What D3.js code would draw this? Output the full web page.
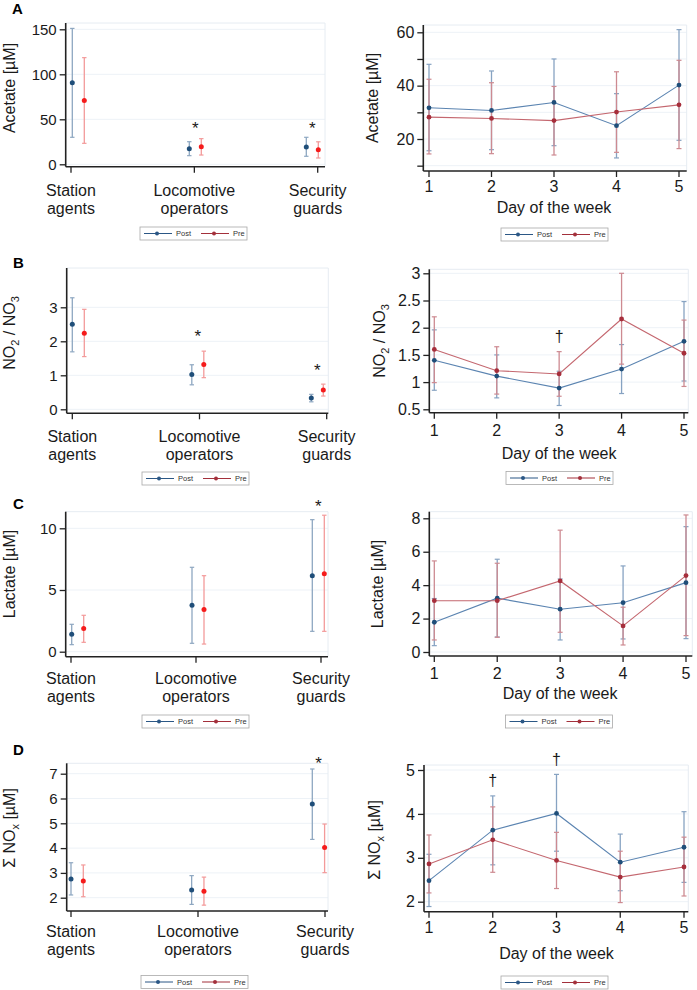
<!DOCTYPE html>
<html><head><meta charset="utf-8">
<script src="https://cdn.jsdelivr.net/npm/d3@7"></script>
<style>
html,body{margin:0;padding:0;background:#fff;}
svg{display:block;font-family:"Liberation Sans",Arial,sans-serif;}
</style></head>
<body><svg id="chart" width="697" height="990"></svg>
<script>
// ---------- DATA ----------
const groups = ["Station agents", "Locomotive operators", "Security guards"];
const groupLabelLines = [["Station", "agents"], ["Locomotive", "operators"], ["Security", "guards"]];
const days = [1, 2, 3, 4, 5];
const seriesNames = ["Post", "Pre"];

// A: Acetate [µM]
const acetateGroupPostMean = [90.7, 17.4, 19.2];
const acetateGroupPostLo   = [30.0, 9.6, 8.9];
const acetateGroupPostHi   = [151.0, 25.1, 30.0];
const acetateGroupPreMean  = [71.0, 19.6, 16.3];
const acetateGroupPreLo    = [23.3, 10.3, 7.0];
const acetateGroupPreHi    = [118.5, 28.5, 25.0];
const acetateDayPostMean = [31.7, 30.7, 33.7, 25.0, 40.2];
const acetateDayPostLo   = [15.6, 16.0, 17.5, 12.9, 19.5];
const acetateDayPostHi   = [48.0, 45.5, 50.0, 37.0, 61.0];
const acetateDayPreMean  = [28.2, 27.7, 26.9, 30.1, 32.8];
const acetateDayPreLo    = [14.4, 14.5, 14.0, 15.0, 16.4];
const acetateDayPreHi    = [42.4, 41.1, 39.7, 45.2, 49.5];
const acetateGroupTicks = [0, 50, 100, 150];
const acetateDayTicks = [20, 40, 60];
const acetateDayMinorTicks = [10, 30, 50];

// B: NO2 / NO3
const ratioGroupPostMean = [2.50, 1.02, 0.33];
const ratioGroupPostLo   = [1.69, 0.72, 0.22];
const ratioGroupPostHi   = [3.28, 1.31, 0.44];
const ratioGroupPreMean  = [2.24, 1.32, 0.57];
const ratioGroupPreLo    = [1.55, 0.93, 0.39];
const ratioGroupPreHi    = [2.94, 1.71, 0.74];
const ratioDayPostMean = [1.40, 1.11, 0.89, 1.24, 1.75];
const ratioDayPostLo   = [0.85, 0.71, 0.57, 0.79, 1.02];
const ratioDayPostHi   = [1.96, 1.50, 1.20, 1.69, 2.48];
const ratioDayPreMean  = [1.60, 1.21, 1.15, 2.16, 1.53];
const ratioDayPreLo    = [0.99, 0.78, 0.74, 1.33, 0.92];
const ratioDayPreHi    = [2.20, 1.65, 1.56, 3.00, 2.14];
const ratioGroupTicks = [0, 1, 2, 3];
const ratioDayTicks = [0.5, 1, 1.5, 2, 2.5, 3];

// C: Lactate [µM]
const lactGroupPostMean = [1.41, 3.76, 6.16];
const lactGroupPostLo   = [0.57, 0.68, 1.65];
const lactGroupPostHi   = [2.22, 6.84, 10.70];
const lactGroupPreMean  = [1.87, 3.41, 6.32];
const lactGroupPreLo    = [0.76, 0.62, 1.65];
const lactGroupPreHi    = [2.95, 6.16, 11.06];
const lactDayPostMean = [1.78, 3.22, 2.56, 2.95, 4.15];
const lactDayPostLo   = [0.38, 0.90, 0.72, 0.78, 0.80];
const lactDayPostHi   = [3.20, 5.55, 4.37, 5.15, 7.50];
const lactDayPreMean  = [3.07, 3.07, 4.25, 1.56, 4.57];
const lactDayPreLo    = [0.72, 0.88, 1.18, 0.42, 0.98];
const lactDayPreHi    = [5.45, 5.31, 7.29, 2.68, 8.20];
const lactGroupTicks = [0, 5, 10];
const lactDayTicks = [0, 2, 4, 6, 8];

// D: Σ NOx [µM]
const noxGroupPostMean = [2.75, 2.31, 5.78];
const noxGroupPostLo   = [2.11, 1.73, 4.35];
const noxGroupPostHi   = [3.41, 2.89, 7.19];
const noxGroupPreMean  = [2.67, 2.26, 4.02];
const noxGroupPreLo    = [2.04, 1.70, 3.01];
const noxGroupPreHi    = [3.32, 2.83, 4.97];
const noxDayPostMean = [2.48, 3.63, 4.01, 2.90, 3.24];
const noxDayPostLo   = [1.89, 2.84, 3.15, 2.25, 2.44];
const noxDayPostHi   = [3.08, 4.41, 4.90, 3.54, 4.05];
const noxDayPreMean  = [2.86, 3.41, 2.94, 2.56, 2.79];
const noxDayPreLo    = [2.20, 2.67, 2.30, 1.98, 2.13];
const noxDayPreHi    = [3.52, 4.16, 3.58, 3.15, 3.47];
const noxGroupTicks = [2, 3, 4, 5, 6, 7];
const noxDayTicks = [2, 3, 4, 5];

// Significance marks: [group index or day, y value]
const acetateGroupStars = [[1, 43.7], [2, 43.7]];
const ratioGroupStars = [[1, 2.24], [2, 1.25]];
const lactGroupStars = [[2, 12.08]];
const noxGroupStars = [[2, 7.55]];
const ratioDayDaggers = [[3, 1.83]];
const noxDayDaggers = [[2, 4.75], [3, 5.23]];

// Titles
const titleAcetate = [{t: "Acetate [µM]"}];
const titleRatio = [{t: "NO"}, {t: "2", sub: true}, {t: " / NO"}, {t: "3", sub: true}];
const titleLactate = [{t: "Lactate [µM]"}];
const titleNox = [{t: "Σ NO"}, {t: "x", sub: true}, {t: " [µM]"}];

// ---------- STYLE ----------
const C = {
  axis: "#222", text: "#1a1a1a", grid: "#edf2f7", frame: "#e6ecf2",
  postPt: "#1f4e79", postBarL: "#8ea7c1", prePtL: "#f51b1b", preBarL: "#f39a9a",
  postLine: "#5b84b1", postBarR: "#87a3c2", prePtR: "#a62e3b", preLine: "#c4676f", preBarR: "#cd8a91",
  legPost: "#2b5785", legPre: "#a3303b"
};

const svg = d3.select("#chart");

function yTitle(g, parts, x, y) {
  const t = g.append("text").attr("transform", `translate(${x},${y}) rotate(-90)`)
    .attr("text-anchor", "middle").attr("font-size", 16).attr("fill", C.text);
  parts.forEach((p, i) => {
    const prevSub = i > 0 && parts[i - 1].sub;
    const ts = t.append("tspan").text(p.t);
    if (p.sub) ts.attr("font-size", 11).attr("dy", 4);
    else if (prevSub) ts.attr("dy", -4);
  });
}

function legend(g, x, y) {
  const w = 107, h = 13, my = y + h / 2;
  g.append("rect").attr("x", x).attr("y", y).attr("width", w).attr("height", h)
    .attr("fill", "#fff").attr("stroke", "#a8a8a8").attr("stroke-width", 0.8);
  const items = [{n: seriesNames[0], c: C.legPost, x0: 4}, {n: seriesNames[1], c: C.legPre, x0: 61}];
  items.forEach(it => {
    g.append("line").attr("x1", x + it.x0).attr("x2", x + it.x0 + 28).attr("y1", my).attr("y2", my)
      .attr("stroke", it.c).attr("stroke-width", 1);
    g.append("circle").attr("cx", x + it.x0 + 13).attr("cy", my).attr("r", 2).attr("fill", it.c);
    g.append("text").attr("x", x + it.x0 + 32).attr("y", my + 2.5).attr("font-size", 7.5)
      .attr("fill", "#333").text(it.n);
  });
}

function frame(g, L, y, ticks) {
  // grid
  g.selectAll(null).data(ticks).join("line")
    .attr("x1", L.axisX).attr("x2", L.right).attr("y1", d => y(d)).attr("y2", d => y(d))
    .attr("stroke", C.grid).attr("stroke-width", 1);
  // light frame top/right
  g.append("line").attr("x1", L.axisX).attr("x2", L.right).attr("y1", L.top).attr("y2", L.top)
    .attr("stroke", C.frame).attr("stroke-width", 1);
  g.append("line").attr("x1", L.right).attr("x2", L.right).attr("y1", L.top).attr("y2", L.bottom)
    .attr("stroke", C.frame).attr("stroke-width", 1);
}

function yAxis(g, L, y, ticks, labelled, fs, fmt) {
  const ax = d3.axisLeft(y).tickValues(ticks).tickSize(6).tickPadding(3)
    .tickFormat(d => labelled.includes(d) ? fmt(d) : "");
  const a = g.append("g").attr("transform", `translate(${L.axisX},0)`).call(ax);
  a.select(".domain").remove();
  a.selectAll("line").attr("stroke", C.axis).attr("stroke-width", 1.3);
  a.selectAll("text").attr("font-size", fs).attr("fill", C.text).attr("font-family", "Liberation Sans, Arial, sans-serif");
  g.append("line").attr("x1", L.axisX).attr("x2", L.axisX).attr("y1", L.top).attr("y2", L.bottom)
    .attr("stroke", C.axis).attr("stroke-width", 1.6);
  g.append("line").attr("x1", L.axisX).attr("x2", L.right).attr("y1", L.bottom).attr("y2", L.bottom)
    .attr("stroke", C.axis).attr("stroke-width", 1.6);
}

function errBar(g, x, ylo, yhi, color, cap) {
  g.append("line").attr("x1", x).attr("x2", x).attr("y1", ylo).attr("y2", yhi)
    .attr("stroke", color).attr("stroke-width", 1.3);
  [ylo, yhi].forEach(yy => g.append("line").attr("x1", x - cap).attr("x2", x + cap)
    .attr("y1", yy).attr("y2", yy).attr("stroke", color).attr("stroke-width", 1.2));
}

function groupPanel(L, D) {
  const g = svg.append("g");
  const y = d3.scaleLinear().domain(L.yDom).range(L.yRng);
  const xt = d3.scalePoint().domain(groups).range(L.catRange);
  const xp = d3.scalePoint().domain(groups).range(L.ptRange);
  frame(g, L, y, D.ticks);
  yAxis(g, L, y, D.ticks, D.ticks, 15, d => d3.format("d")(d));
  // x ticks
  groups.forEach((gr, i) => {
    g.append("line").attr("x1", xt(gr)).attr("x2", xt(gr)).attr("y1", L.bottom).attr("y2", L.bottom + 6)
      .attr("stroke", C.axis).attr("stroke-width", 1.3);
    groupLabelLines[i].forEach((ln, k) => {
      g.append("text").attr("x", xt(gr)).attr("y", L.labelY + k * 18).attr("text-anchor", "middle")
        .attr("font-size", 16).attr("fill", C.text).text(ln);
    });
  });
  const sets = [
    {m: D.postM, lo: D.postLo, hi: D.postHi, bar: C.postBarL, pt: C.postPt, off: 0},
    {m: D.preM, lo: D.preLo, hi: D.preHi, bar: C.preBarL, pt: C.prePtL, off: L.preOff}
  ];
  sets.forEach(s => {
    groups.forEach((gr, i) => {
      const x = xp(gr) + s.off;
      errBar(g, x, y(s.lo[i]), y(s.hi[i]), s.bar, 2.2);
    });
  });
  sets.forEach(s => {
    groups.forEach((gr, i) => {
      g.append("circle").attr("cx", xp(gr) + s.off).attr("cy", y(s.m[i])).attr("r", 2.5).attr("fill", s.pt);
    });
  });
  D.stars.forEach(([gi, v]) => {
    g.append("text").attr("x", xp(groups[gi]) + L.preOff / 2).attr("y", y(v) + 9)
      .attr("text-anchor", "middle").attr("font-size", 17).attr("fill", C.text).text("*");
  });
  g.append("text").attr("x", L.letter[0]).attr("y", L.letter[1]).attr("font-size", 15)
    .attr("font-weight", "bold").attr("fill", "#000").text(L.letterText);
  yTitle(g, D.title, L.titlePos[0], L.titlePos[1]);
  legend(g, L.legend[0], L.legend[1]);
}

function dayPanel(L, D) {
  const g = svg.append("g");
  const y = d3.scaleLinear().domain(L.yDom).range(L.yRng);
  const x = d3.scaleLinear().domain([days[0], days[days.length - 1]]).range(L.xRange);
  const allTicks = D.minor ? D.ticks.concat(D.minor).sort((a, b) => a - b) : D.ticks;
  frame(g, L, y, allTicks);
  yAxis(g, L, y, allTicks, D.ticks, 16, d => d3.format("~g")(d));
  days.forEach(dd => {
    g.append("line").attr("x1", x(dd)).attr("x2", x(dd)).attr("y1", L.bottom).attr("y2", L.bottom + 6)
      .attr("stroke", C.axis).attr("stroke-width", 1.3);
    g.append("text").attr("x", x(dd)).attr("y", L.tickLabY).attr("text-anchor", "middle")
      .attr("font-size", 16).attr("fill", C.text).text(dd);
  });
  g.append("text").attr("x", (x(days[0]) + x(days[4])) / 2).attr("y", L.xTitleY).attr("text-anchor", "middle")
    .attr("font-size", 16).attr("fill", C.text).text("Day of the week");
  const sets = [
    {m: D.postM, lo: D.postLo, hi: D.postHi, bar: C.postBarR, pt: C.postPt, line: C.postLine},
    {m: D.preM, lo: D.preLo, hi: D.preHi, bar: C.preBarR, pt: C.prePtR, line: C.preLine}
  ];
  sets.forEach(s => {
    days.forEach((dd, i) => errBar(g, x(dd), y(s.lo[i]), y(s.hi[i]), s.bar, 2.5));
  });
  sets.forEach(s => {
    const ln = d3.line().x((d, i) => x(days[i])).y(d => y(d));
    g.append("path").attr("d", ln(s.m)).attr("fill", "none").attr("stroke", s.line).attr("stroke-width", 1.1);
  });
  sets.forEach(s => {
    days.forEach((dd, i) => g.append("circle").attr("cx", x(dd)).attr("cy", y(s.m[i])).attr("r", 2.4).attr("fill", s.pt));
  });
  (D.daggers || []).forEach(([dd, v]) => {
    g.append("text").attr("x", x(dd)).attr("y", y(v) + 5).attr("text-anchor", "middle")
      .attr("font-size", 16).attr("fill", C.text).text("†");
  });
  yTitle(g, D.title, L.titlePos[0], L.titlePos[1]);
  legend(g, L.legend[0], L.legend[1]);
}

// ---------- LAYOUT + DRAW ----------
groupPanel({letterText: "A", letter: [12, 14], axisX: 65.7, top: 23, bottom: 166.7, right: 325,
  yDom: [0, 150], yRng: [164.3, 29.3], catRange: [71, 317.7], ptRange: [72.3, 306.3], preOff: 12,
  labelY: 196, titlePos: [15, 88], legend: [140, 227]},
  {ticks: acetateGroupTicks, postM: acetateGroupPostMean, postLo: acetateGroupPostLo, postHi: acetateGroupPostHi,
   preM: acetateGroupPreMean, preLo: acetateGroupPreLo, preHi: acetateGroupPreHi, stars: acetateGroupStars, title: titleAcetate});

dayPanel({axisX: 423.3, top: 25, bottom: 171, right: 686.7, yDom: [20, 60], yRng: [139, 32.3],
  xRange: [429, 679], tickLabY: 191.5, xTitleY: 213, titlePos: [378, 98], legend: [501, 228]},
  {ticks: acetateDayTicks, minor: acetateDayMinorTicks, postM: acetateDayPostMean, postLo: acetateDayPostLo, postHi: acetateDayPostHi,
   preM: acetateDayPreMean, preLo: acetateDayPreLo, preHi: acetateDayPreHi, title: titleAcetate});

groupPanel({letterText: "B", letter: [13, 268], axisX: 66.7, top: 268, bottom: 413.3, right: 328.3,
  yDom: [0, 3], yRng: [409.3, 307.3], catRange: [72.3, 326.7], ptRange: [72.3, 311.3], preOff: 12,
  labelY: 441.5, titlePos: [15, 333], legend: [142, 472]},
  {ticks: ratioGroupTicks, postM: ratioGroupPostMean, postLo: ratioGroupPostLo, postHi: ratioGroupPostHi,
   preM: ratioGroupPreMean, preLo: ratioGroupPreLo, preHi: ratioGroupPreHi, stars: ratioGroupStars, title: titleRatio});

dayPanel({axisX: 429.3, top: 269.3, bottom: 412.7, right: 688.3, yDom: [0.5, 3], yRng: [409.3, 273.3],
  xRange: [434.3, 684], tickLabY: 436, xTitleY: 459, titlePos: [385, 341], legend: [506, 471.5]},
  {ticks: ratioDayTicks, postM: ratioDayPostMean, postLo: ratioDayPostLo, postHi: ratioDayPostHi,
   preM: ratioDayPreMean, preLo: ratioDayPreLo, preHi: ratioDayPreHi, daggers: ratioDayDaggers, title: titleRatio});

groupPanel({letterText: "C", letter: [13, 509], axisX: 65.7, top: 511.7, bottom: 656.7, right: 328,
  yDom: [0, 10], yRng: [651.7, 528.3], catRange: [71, 321], ptRange: [71.7, 312.3], preOff: 12,
  labelY: 683.5, titlePos: [15, 574], legend: [142, 715]},
  {ticks: lactGroupTicks, postM: lactGroupPostMean, postLo: lactGroupPostLo, postHi: lactGroupPostHi,
   preM: lactGroupPreMean, preLo: lactGroupPreLo, preHi: lactGroupPreHi, stars: lactGroupStars, title: titleLactate});

dayPanel({axisX: 429.3, top: 511.7, bottom: 656, right: 692.3, yDom: [0, 8], yRng: [652, 518.3],
  xRange: [434.3, 686], tickLabY: 678.5, xTitleY: 699, titlePos: [383, 584], legend: [505.5, 715]},
  {ticks: lactDayTicks, postM: lactDayPostMean, postLo: lactDayPostLo, postHi: lactDayPostHi,
   preM: lactDayPreMean, preLo: lactDayPreLo, preHi: lactDayPreHi, title: titleLactate});

groupPanel({letterText: "D", letter: [13, 755], axisX: 66.7, top: 763.3, bottom: 911, right: 328,
  yDom: [2, 7], yRng: [897.7, 773.7], catRange: [71, 325], ptRange: [71, 312.3], preOff: 12.3,
  labelY: 936.5, titlePos: [15, 828], legend: [141, 975.5]},
  {ticks: noxGroupTicks, postM: noxGroupPostMean, postLo: noxGroupPostLo, postHi: noxGroupPostHi,
   preM: noxGroupPreMean, preLo: noxGroupPreLo, preHi: noxGroupPreHi, stars: noxGroupStars, title: titleNox});

dayPanel({axisX: 424, top: 765, bottom: 911.7, right: 688.3, yDom: [2, 5], yRng: [901.7, 770],
  xRange: [429, 684], tickLabY: 932.5, xTitleY: 959, titlePos: [380, 840], legend: [501, 976]},
  {ticks: noxDayTicks, postM: noxDayPostMean, postLo: noxDayPostLo, postHi: noxDayPostHi,
   preM: noxDayPreMean, preLo: noxDayPreLo, preHi: noxDayPreHi, daggers: noxDayDaggers, title: titleNox});
</script></body></html>
